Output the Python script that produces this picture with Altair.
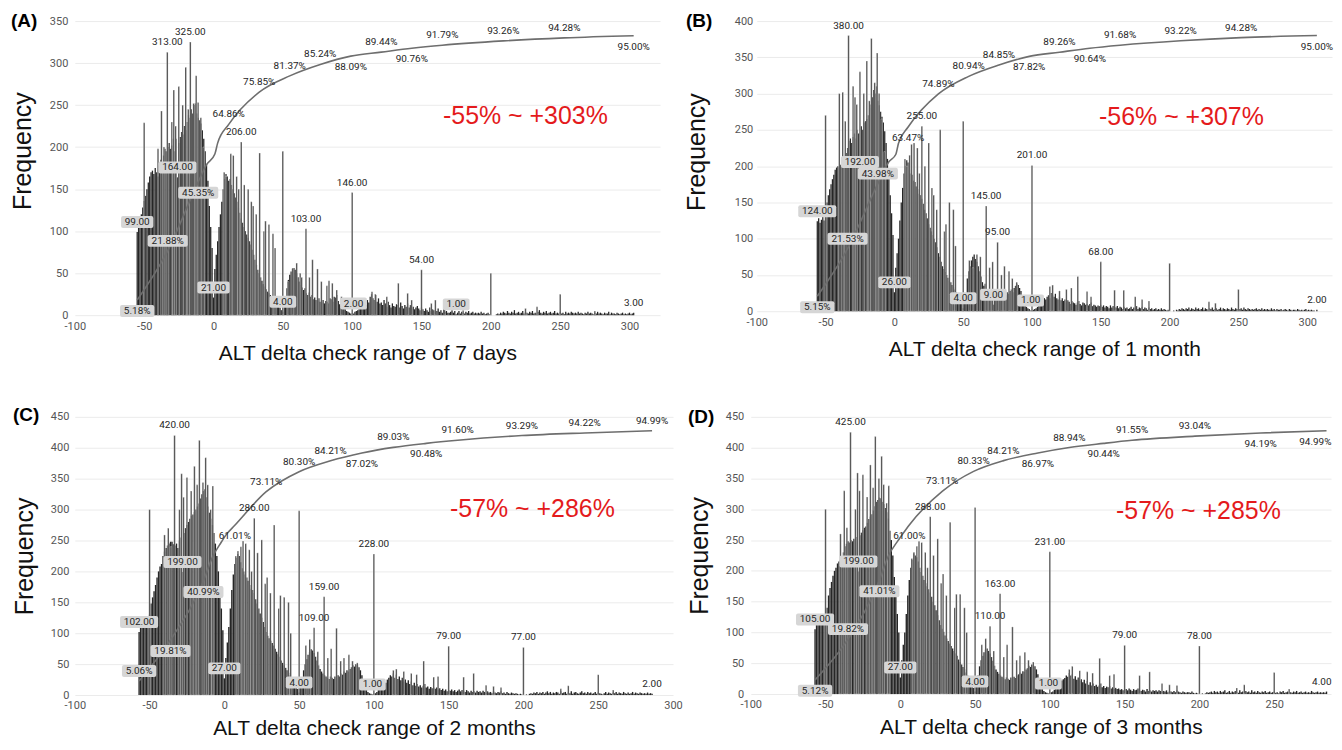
import altair as alt
import pandas as pd

LABEL_FONT = "Roboto"
TITLE_FONT = "Liberation Sans"
TICKS = [-100, -50, 0, 50, 100, 150, 200, 250, 300]

# ---------------- Panel A : 7 days ----------------
A_start = -55
A_base = [99, 105, 112, 120, 128, 136, 142, 150, 158, 165,
          170, 172, 168, 175, 170, 165, 178, 185, 182, 190,
          198, 195, 200, 205, 198, 202, 210, 195, 210, 164,
          205, 212, 218, 215, 225, 220, 230, 238, 235, 245,
          240, 250, 252, 240, 235, 232, 228, 220, 210, 195,
          180, 160, 130, 105, 80, 21, 55, 72, 88, 105,
          120, 135, 150, 162, 168, 165, 160, 162, 155, 150,
          145, 140, 135, 128, 122, 115, 110, 105, 100, 96,
          92, 88, 84, 78, 72, 66, 60, 54, 50, 45,
          41, 37, 34, 31, 28, 26, 24, 22, 20, 18,
          16, 14, 12, 9, 6, 4, 10, 20, 32, 42,
          48, 52, 55, 56, 54, 50, 45, 40, 36, 33,
          30, 32, 26, 24, 27, 22, 24, 19, 21, 18,
          17, 20, 16, 15, 18, 14, 17, 16, 14, 20,
          19, 16, 22, 21, 24, 17, 13, 11, 9, 8,
          7, 5, 4, 3, 2, 2]
A_tail = [2, 4, 5, 6, 8, 10, 12, 9, 14, 12,
          18, 15, 22, 25, 20, 18, 24, 16, 20, 14,
          15, 12, 18, 14, 10, 16, 12, 9, 14, 11,
          10, 13, 12, 9, 15, 11, 8, 12, 10, 14,
          9, 12, 8, 10, 7, 9, 11, 8, 6, 9,
          7, 5, 8, 6, 4, 9, 5, 7, 6, 4,
          5, 8, 4, 6, 3, 7, 4, 5, 3, 3,
          4, 6, 3, 5, 1, 3, 5, 2, 4, 3,
          2, 4, 3, 5, 2, 3, 4, 2, 3, 2,
          3, 2, 4, 2, 3, 1, 2, 3, 1, 0,
          0, 0, 0, 1, 2, 1, 3, 2, 4, 3,
          2, 5, 3, 2, 4, 3, 6, 2, 3, 4,
          2, 3, 5, 2, 4, 3, 2, 4, 3, 5,
          2, 3, 2, 4, 6, 3, 2, 4, 3, 5,
          2, 3, 4, 2, 3, 5, 2, 3, 2, 4,
          2, 3, 1, 4, 2, 3, 2, 4, 3, 2,
          3, 2, 4, 2, 3, 2, 1, 3, 2, 4,
          2, 3, 2, 1, 3, 2, 4, 2, 3, 2,
          1, 3, 2, 2, 4, 1, 3, 2, 2, 1,
          3, 2, 1, 2, 3, 1, 2, 1, 2, 3,
          1, 2, 3]
A_spike_x = [-50, -40, -37.5, -35.7, -33.3, -30, -28.6, -27.3, -25, -22.2, -20, -18.2, -16.7, -14.3, -12.5, -11.1, -9.1, -7.1,
             7.7, 9.1, 12.5, 14.3, 16.7, 18.2, 20, 22.2, 25, 27.3, 28.6, 30.8, 33.3, 36.4, 37.5, 40, 42.9, 44.4, 50,
             53.8, 57.1, 60, 62.5, 63.6, 66.7, 69.2, 71.4, 75, 77.8, 81.8, 83.3, 85.7, 88.9, 92.3,
             100, 114.3, 116.7, 125, 133.3, 140, 142.9, 150, 157.1, 160, 166.7, 180, 200, 225, 233.3, 250, 275]
A_spike_n = [229, 198, 243, 200, 313, 230, 268, 225, 272, 250, 295, 245, 325, 252, 285, 253, 235, 200,
             170, 165, 192, 190, 165, 150, 206, 155, 150, 135, 130, 120, 193, 100, 112, 108, 97, 80, 195,
             40, 56, 62, 50, 45, 103, 45, 66, 55, 40, 35, 41, 38, 30, 22,
             146, 28, 25, 22, 38, 26, 18, 54, 14, 18, 16, 6, 50, 8, 10, 25, 5]
A_cum_x = [-55, -33, -11, 11, 33, 55, 77, 99, 121, 143, 165, 209, 253, 303]
A_cum_v = [5.18, 21.88, 45.35, 64.86, 75.85, 81.37, 85.24, 88.09, 89.44, 90.76, 91.79, 93.26, 94.28, 95.00]
A_cum_below = [0, 2, 7, 9, 13]
A_kink_x = [-5, 1, 3]
A_kink_v = [51.2, 54.8, 58.5]
A_box_lab = [-55, -26, 0, 50, 101, 175]
A_plain_lab = [303]
A_spike_lab = [-33.3, -16.7, 20, 66.7, 100, 150]

# ---------------- Panel B : 1 month ----------------
B_start = -56
B_base = [124, 128, 122, 126, 130, 125, 135, 150, 160, 168,
          175, 182, 188, 195, 198, 200, 198, 202, 205, 200,
          210, 218, 225, 235, 238, 232, 240, 245, 238, 250,
          245, 192, 255, 250, 260, 262, 265, 270, 280, 285,
          295, 305, 300, 310, 290, 284, 275, 268, 260, 248,
          232, 210, 185, 160, 135, 105, 26, 60, 80, 100,
          125, 150, 170, 190, 200, 208, 205, 195, 190, 188,
          180, 178, 172, 168, 162, 160, 155, 148, 140, 135,
          128, 120, 115, 110, 105, 100, 95, 88, 80, 75,
          68, 62, 58, 54, 50, 46, 42, 40, 36, 33,
          30, 26, 22, 18, 14, 10, 4, 12, 25, 45,
          55, 62, 70, 75, 78, 72, 68, 62, 55, 48,
          40, 35, 38, 30, 28, 25, 22, 20, 9, 20,
          18, 16, 20, 18, 22, 20, 25, 22, 26, 24,
          28, 30, 26, 32, 35, 38, 36, 32, 28, 20,
          14, 10, 6, 4, 3, 1, 2]
B_tail = [2, 3, 4, 6, 8, 12, 15, 14, 18, 16,
          20, 22, 18, 25, 22, 20, 24, 18, 16, 20,
          15, 18, 14, 16, 12, 15, 13, 10, 14, 12,
          11, 9, 12, 14, 10, 8, 12, 11, 9, 10,
          8, 10, 12, 7, 9, 8, 6, 8, 7, 9,
          6, 8, 5, 7, 6, 4, 8, 5, 7, 6,
          5, 7, 4, 6, 5, 3, 6, 4, 5, 3,
          4, 6, 3, 5, 4, 7, 3, 5, 4, 6,
          3, 5, 4, 2, 5, 3, 4, 2, 3, 4,
          2, 3, 2, 4, 2, 3, 2, 1, 2, 0,
          0, 0, 1, 0, 2, 1, 3, 2, 4, 3,
          2, 4, 3, 5, 2, 4, 3, 2, 5, 3,
          4, 2, 3, 5, 2, 4, 3, 2, 4, 3,
          5, 2, 3, 4, 2, 3, 5, 2, 4, 3,
          2, 4, 3, 2, 5, 3, 2, 4, 3, 2,
          3, 4, 2, 5, 3, 2, 4, 3, 2, 3,
          2, 3, 4, 2, 3, 2, 4, 2, 3, 2,
          3, 2, 2, 4, 2, 3, 1, 3, 2, 2,
          3, 1, 2, 3, 2, 1, 3, 2, 1, 2,
          2, 1, 3, 2, 1, 2, 1, 2, 3, 1,
          2, 1, 2, 1, 1, 0, 2]
B_spike_x = [-50, -40, -37.5, -35.7, -33.3, -30, -28.6, -27.3, -25, -22.2, -20, -18.2, -16.7, -14.3, -12.5, -11.1, -9.1, -7.1,
             7.7, 9.1, 11.1, 12.5, 14.3, 16.7, 18.2, 20, 22.2, 25, 27.3, 28.6, 30.8, 33.3, 36.4, 37.5, 40, 42.9, 44.4, 50,
             54.5, 57.1, 60, 62.5, 66.7, 69.2, 71.4, 75, 77.8, 80, 83.3, 85.7, 88.9,
             100, 113, 115, 120, 125, 128.6, 133.3, 140, 142.9, 150, 160, 166.7, 175, 180, 185, 200, 228.6, 233.3, 250]
B_spike_n = [270, 300, 302, 262, 380, 310, 295, 285, 330, 300, 345, 290, 376, 315, 356, 300, 265, 220,
             210, 200, 215, 230, 232, 225, 190, 255, 200, 232, 170, 160, 140, 250, 110, 120, 150, 140, 90, 262,
             70, 60, 78, 75, 145, 60, 68, 95, 50, 62, 55, 45, 40,
             201, 34, 36, 28, 30, 32, 48, 27, 20, 68, 29, 29, 20, 16, 14, 66, 13, 11, 30]
B_cum_x = [-56, -34, -12, 10, 32, 54, 76, 98, 120, 142, 164, 208, 252, 307]
B_cum_v = [5.15, 21.53, 43.98, 63.47, 74.89, 80.94, 84.85, 87.82, 89.26, 90.64, 91.68, 93.22, 94.28, 95.00]
B_cum_below = [0, 3, 7, 9, 13]
B_kink_x = [-4, 1, 3]
B_kink_v = [51.5, 54.0, 57.9]
B_box_lab = [-56, -25, 0, 50, 72, 99]
B_plain_lab = [307]
B_spike_lab = [-33.3, 20, 66.7, 75, 100, 150]

# ---------------- Panel C : 2 months ----------------
C_start = -57
C_base = [102, 115, 118, 116, 120, 118, 125, 130, 148, 158,
          168, 178, 190, 200, 208, 212, 225, 232, 238, 242,
          245, 248, 248, 244, 242, 245, 238, 250, 255, 199,
          262, 270, 275, 280, 285, 290, 292, 296, 300, 305,
          310, 318, 325, 330, 333, 320, 305, 295, 285, 275,
          262, 245, 225, 200, 170, 140, 105, 27, 60, 85,
          110, 140, 170, 195, 212, 222, 228, 225, 215, 205,
          200, 195, 190, 185, 178, 172, 170, 165, 155, 148,
          140, 132, 125, 118, 110, 102, 96, 92, 88, 84,
          80, 75, 70, 66, 62, 56, 52, 48, 44, 40,
          36, 32, 28, 24, 21, 15, 10, 4, 14, 28,
          40, 50, 58, 65, 70, 74, 72, 68, 62, 56,
          48, 42, 38, 35, 32, 30, 28, 26, 30, 28,
          26, 30, 28, 32, 30, 35, 33, 38, 36, 40,
          38, 42, 45, 48, 46, 50, 48, 45, 40, 32,
          22, 14, 8, 5, 3, 2, 1, 2]
C_tail = [3, 5, 8, 10, 14, 18, 22, 20, 25, 28,
          32, 30, 35, 28, 33, 26, 30, 24, 28, 22,
          25, 20, 24, 18, 22, 16, 20, 15, 18, 14,
          16, 12, 15, 18, 12, 14, 10, 13, 11, 12,
          10, 12, 9, 11, 8, 10, 7, 9, 6, 8,
          7, 9, 6, 8, 5, 7, 9, 6, 8, 7,
          5, 8, 6, 4, 7, 5, 6, 4, 7, 5,
          6, 4, 7, 5, 3, 6, 4, 5, 3, 6,
          4, 3, 5, 4, 6, 3, 4, 2, 5, 3,
          2, 4, 3, 2, 3, 2, 1, 2, 1, 0,
          0, 1, 0, 2, 3, 2, 4, 3, 5, 2,
          4, 3, 5, 2, 4, 6, 3, 5, 2, 4,
          3, 5, 4, 2, 6, 3, 4, 5, 2, 4,
          3, 6, 2, 4, 5, 3, 2, 4, 6, 3,
          4, 2, 5, 3, 4, 2, 3, 5, 2, 4,
          3, 2, 1, 3, 5, 2, 4, 3, 2, 4,
          3, 5, 2, 4, 3, 2, 5, 3, 2, 4,
          2, 3, 5, 2, 4, 3, 2, 4, 3, 2,
          3, 2, 4, 2, 3, 2]
C_spike_x = [-50, -40, -37.5, -35.7, -33.3, -30, -28.6, -27.3, -25, -22.2, -20, -18.2, -16.7, -14.3, -12.5, -11.1, -9.1, -7.7,
             7.7, 9.1, 11.1, 12.5, 14.3, 16.7, 18.2, 20, 22.2, 25, 27.3, 28.6, 30.8, 33.3, 36.4, 37.5, 40, 42.9, 44.4, 50,
             54.5, 57.1, 60, 62.5, 66.7, 69.2, 71.4, 75, 77.8, 80, 83.3, 85.7, 88.9,
             100, 113, 115, 120, 125, 128.6, 133.3, 140, 142.9, 150, 160, 166.7, 175, 180, 185, 200, 225, 230, 250, 260]
C_spike_n = [300, 259, 270, 240, 420, 300, 358, 320, 352, 330, 370, 340, 412, 344, 384, 340, 300, 338,
             225, 233, 240, 249, 245, 235, 200, 286, 230, 251, 180, 190, 165, 275, 140, 161, 158, 150, 100, 298,
             80, 90, 109, 70, 159, 60, 75, 108, 55, 60, 65, 55, 52,
             228, 40, 42, 38, 35, 33, 55, 29, 30, 79, 29, 35, 16, 14, 12, 77, 10, 15, 33, 8]
C_cum_x = [-57, -36, -14, 7, 28, 50, 71, 92, 113, 135, 156, 199, 241, 286]
C_cum_v = [5.06, 19.81, 40.99, 61.01, 73.11, 80.30, 84.21, 87.02, 89.03, 90.48, 91.60, 93.29, 94.22, 94.99]
C_cum_below = [1, 2, 3, 7, 9]
C_kink_x = [-8, -2, 1]
C_kink_v = [49.5, 55.0, 57.5]
C_box_lab = [-57, -28, 0, 50, 99]
C_plain_lab = [286]
C_spike_lab = [-33.3, 20, 60, 66.7, 100, 150, 200]

# ---------------- Panel D : 3 months ----------------
D_start = -57
D_base = [105, 115, 117, 118, 120, 122, 122, 125, 140, 160,
          172, 182, 192, 200, 205, 212, 215, 218, 222, 230,
          240, 244, 248, 246, 250, 248, 252, 250, 255, 199,
          258, 262, 266, 270, 272, 278, 284, 288, 292, 298,
          305, 312, 315, 319, 318, 312, 308, 302, 295, 285,
          265, 250, 225, 190, 160, 130, 100, 27, 55, 80,
          100, 130, 160, 185, 205, 218, 228, 225, 222, 215,
          205, 198, 192, 185, 180, 175, 170, 165, 158, 150,
          144, 136, 128, 120, 112, 106, 101, 95, 90, 86,
          82, 78, 74, 70, 66, 62, 56, 52, 48, 44,
          40, 35, 30, 26, 22, 16, 10, 4, 15, 30,
          45, 55, 62, 68, 72, 74, 70, 66, 60, 54,
          46, 40, 36, 33, 30, 28, 26, 24, 27, 25,
          23, 27, 25, 28, 26, 30, 32, 35, 33, 37,
          36, 40, 42, 46, 44, 48, 47, 45, 40, 32,
          22, 14, 8, 5, 3, 2, 1, 2]
D_tail = [3, 4, 7, 10, 13, 16, 20, 22, 24, 26,
          30, 28, 34, 30, 32, 25, 29, 23, 27, 21,
          24, 19, 23, 17, 21, 15, 19, 14, 17, 13,
          15, 12, 14, 17, 11, 13, 10, 12, 11, 13,
          9, 11, 8, 10, 8, 9, 7, 8, 6, 7,
          8, 6, 9, 7, 5, 8, 6, 7, 9, 6,
          5, 7, 6, 4, 8, 5, 6, 4, 6, 5,
          6, 4, 6, 5, 3, 5, 4, 6, 3, 5,
          4, 3, 5, 3, 6, 4, 3, 2, 4, 3,
          2, 3, 3, 2, 4, 2, 1, 2, 1, 0,
          0, 1, 0, 1, 3, 2, 3, 4, 2, 5,
          3, 4, 2, 5, 3, 4, 6, 2, 3, 5,
          2, 4, 3, 5, 3, 2, 6, 3, 4, 2,
          5, 3, 4, 2, 6, 3, 4, 2, 5, 3,
          2, 4, 3, 5, 2, 3, 4, 2, 3, 4,
          2, 3, 1, 4, 3, 5, 2, 3, 4, 2,
          3, 2, 4, 3, 5, 2, 3, 4, 2, 3,
          4, 2, 3, 2, 5, 3, 2, 3, 4, 2,
          3, 2, 3, 2, 4]
D_spike_x = [-50, -40, -37.5, -35.7, -33.3, -30, -28.6, -27.3, -25, -22.2, -20, -18.2, -16.7, -14.3, -12.5, -11.1, -9.1, -7.7,
             7.7, 9.1, 11.1, 12.5, 14.3, 16.7, 18.2, 20, 22.2, 25, 27.3, 28.6, 30.8, 33.3, 36.4, 37.5, 40, 42.9, 44.4, 50,
             54.5, 57.1, 60, 62.5, 66.7, 69.2, 71.4, 75, 77.8, 80, 83.3, 85.7, 88.9,
             100, 113, 115, 120, 125, 128.6, 133.3, 140, 142.9, 150, 160, 166.7, 175, 180, 185, 200, 225, 230, 250, 260]
D_spike_n = [300, 260, 330, 270, 425, 300, 359, 330, 356, 320, 372, 335, 418, 350, 386, 340, 310, 338,
             220, 230, 240, 248, 246, 230, 205, 288, 225, 252, 180, 195, 160, 279, 140, 162, 162, 140, 100, 303,
             80, 90, 110, 70, 163, 60, 80, 109, 55, 62, 68, 55, 52,
             231, 40, 45, 38, 36, 34, 58, 30, 32, 79, 30, 36, 17, 15, 14, 78, 10, 15, 35, 8]
D_cum_x = [-57, -35, -14, 6, 28, 49, 69, 92, 113, 136, 155, 197, 241, 285]
D_cum_v = [5.12, 19.82, 41.01, 61.00, 73.11, 80.33, 84.21, 86.97, 88.94, 90.44, 91.55, 93.04, 94.19, 94.99]
D_cum_below = [0, 2, 3, 7, 9, 12, 13]
D_kink_x = [-8, -2, 1]
D_kink_v = [49.8, 55.0, 57.3]
D_box_lab = [-57, -28, 0, 50, 99]
D_plain_lab = [285]
D_spike_lab = [-33.3, 20, 60, 66.7, 100, 150, 200]

CHAR_W = {'.': 2.7, '%': 7.6}
UP, DOWN = -10, 11


def text_w(s):
    return sum(CHAR_W.get(c, 5.7) for c in s)


def box_path(s, dy, h=12.0, pad=7.0, r=2.0):
    w = text_w(s) + pad
    x0, x1 = -w / 2, w / 2
    y0, y1 = dy - h / 2, dy + h / 2
    return (f"M{x0 + r:.1f},{y0:.1f}H{x1 - r:.1f}Q{x1:.1f},{y0:.1f} {x1:.1f},{y0 + r:.1f}"
            f"V{y1 - r:.1f}Q{x1:.1f},{y1:.1f} {x1 - r:.1f},{y1:.1f}H{x0 + r:.1f}"
            f"Q{x0:.1f},{y1:.1f} {x0:.1f},{y1 - r:.1f}V{y0 + r:.1f}Q{x0:.1f},{y0:.1f} {x0 + r:.1f},{y0:.1f}Z")


def panel(start, base, tail, spike_x, spike_n, cum_x, cum_v, cum_below, kink_x, kink_v,
          box_lab, plain_lab, spike_lab, letter, rng, title,
          xmax, width, ymax, height, tpad, lpad, xtpad, letter_x, letter_y, rng_x, rng_y,
          last_right=False, ytitle_y=None):
    xs = list(range(start, start + len(base) + len(tail)))
    ns = base + tail
    bars = pd.DataFrame({'x': xs, 'n': ns})
    spikes = pd.DataFrame({'x': spike_x, 'n': spike_n})
    base_lookup = dict(zip(xs, ns))
    spike_lookup = dict(zip(spike_x, spike_n))
    unit_px = width / (xmax + 100.0)
    xlast = xs[-1]

    rows = []
    for x in box_lab:
        n = base_lookup[x]
        t = f"{n:.2f}"
        rows.append({'x': x, 'n': n, 't': t, 'box': 1, 'right': 0, 'path': box_path(t, UP)})
    for x in plain_lab:
        n = base_lookup[x]
        rows.append({'x': x, 'n': n, 't': f"{n:.2f}", 'box': 0,
                     'right': 1 if (last_right and x == xlast) else 0, 'path': ''})
    for x in spike_lab:
        n = spike_lookup[x]
        rows.append({'x': x, 'n': n, 't': f"{n:.2f}", 'box': 0, 'right': 0, 'path': ''})
    blab = pd.DataFrame(rows)

    cline = pd.DataFrame({'x': cum_x + kink_x, 'v': cum_v + kink_v})
    crows = []
    for i, (x, v) in enumerate(zip(cum_x, cum_v)):
        t = f"{v:.2f}%"
        dy = DOWN if i in cum_below else UP
        crows.append({'x': x, 'v': v, 't': t, 'below': 1 if dy == DOWN else 0,
                      'right': 1 if (last_right and i == len(cum_x) - 1) else 0,
                      'box': 1 if i < 3 else 0, 'path': box_path(t, dy) if i < 3 else ''})
    clab = pd.DataFrame(crows)

    xenc = alt.X('x:Q', scale=alt.Scale(domain=[-100, xmax], nice=False, zero=False, padding=0),
                 axis=alt.Axis(values=[t for t in TICKS if t <= xmax], title=title,
                               labelPadding=5, titlePadding=xtpad, titleFontSize=21,
                               grid=False, labelFlush=False, labelExpr="datum.value + ''"))
    yaxis_kw = dict(values=list(range(0, ymax + 1, 50)), title='Frequency',
                    titleFontSize=25, titlePadding=tpad, labelPadding=lpad, grid=True)
    if ytitle_y is not None:
        yaxis_kw['titleY'] = ytitle_y
    ycount = alt.Y('n:Q', scale=alt.Scale(domain=[0, ymax], nice=False, padding=0),
                   axis=alt.Axis(**yaxis_kw))
    ycount2 = alt.Y('n:Q', scale=alt.Scale(domain=[0, ymax], nice=False, padding=0), axis=None)
    ypct = alt.Y('v:Q', scale=alt.Scale(domain=[0, 100], nice=False, padding=0), axis=None)

    layers = [
        alt.Chart(bars).mark_bar(width=round(unit_px * 0.92, 2), color='#262626').encode(x=xenc, y=ycount),
        alt.Chart(spikes).mark_bar(width=1.5, color='#3a3a3a', stroke='#ffffff',
                                   strokeWidth=0.35).encode(x=xenc, y=ycount2),
        alt.Chart(cline).mark_line(color='#6e6e6e', strokeWidth=1.6,
                                   interpolate='monotone').encode(x=xenc, y=ypct),
        alt.Chart(blab).transform_filter('datum.box == 1').mark_point(
            filled=True, size=4, opacity=1, color='#d6d6d6', strokeWidth=0).encode(
            x=xenc, y=ycount2, shape=alt.Shape('path:N', scale=None)),
        alt.Chart(clab).transform_filter('datum.box == 1').mark_point(
            filled=True, size=4, opacity=1, color='#d6d6d6', strokeWidth=0).encode(
            x=xenc, y=ypct, shape=alt.Shape('path:N', scale=None)),
    ]
    for r, align, dx in [(0, 'center', 0), (1, 'right', 5)]:
        layers.append(alt.Chart(blab).transform_filter(f'datum.right == {r}').mark_text(
            font=LABEL_FONT, fontSize=10, color='#262626', dy=UP, dx=dx, align=align,
            baseline='middle').encode(x=xenc, y=ycount2, text='t:N'))
        for b, dy in [(0, UP), (1, DOWN)]:
            layers.append(alt.Chart(clab).transform_filter(
                f'datum.below == {b} && datum.right == {r}').mark_text(
                font=LABEL_FONT, fontSize=10, color='#262626', dy=dy, dx=dx, align=align,
                baseline='middle').encode(x=xenc, y=ypct, text='t:N'))
    layers.append(alt.Chart(pd.DataFrame({'t': [letter]})).mark_text(
        font=TITLE_FONT, fontSize=19, fontWeight='bold', color='#000000',
        align='left', baseline='middle').encode(x=alt.value(letter_x), y=alt.value(letter_y), text='t:N'))
    layers.append(alt.Chart(pd.DataFrame({'t': [rng]})).mark_text(
        font=TITLE_FONT, fontSize=25, color='#e41a1c', align='center', baseline='middle').encode(
        x=alt.value(rng_x), y=alt.value(rng_y), text='t:N'))

    return alt.layer(*layers).resolve_scale(y='independent').properties(width=width, height=height)


pA = panel(A_start, A_base, A_tail, A_spike_x, A_spike_n, A_cum_x, A_cum_v, A_cum_below,
           A_kink_x, A_kink_v, A_box_lab, A_plain_lab, A_spike_lab,
           '(A)', '-55% ~ +303%', 'ALT delta check range of 7 days',
           322, 587, 350, 295, 14, 7, 11, -64, 0, 452, 95, ytitle_y=130)
pB = panel(B_start, B_base, B_tail, B_spike_x, B_spike_n, B_cum_x, B_cum_v, B_cum_below,
           B_kink_x, B_kink_v, B_box_lab, B_plain_lab, B_spike_lab,
           '(B)', '-56% ~ +307%', 'ALT delta check range of 1 month',
           318, 577, 400, 291, 25, 4, 11, -71, 0, 426, 96, ytitle_y=131)
pC = panel(C_start, C_base, C_tail, C_spike_x, C_spike_n, C_cum_x, C_cum_v, C_cum_below,
           C_kink_x, C_kink_v, C_box_lab, C_plain_lab, C_spike_lab,
           '(C)', '-57% ~ +286%', 'ALT delta check range of 2 months',
           300, 600, 450, 279, 13, 6, 7, -62, -2, 459, 92)
pD = panel(D_start, D_base, D_tail, D_spike_x, D_spike_n, D_cum_x, D_cum_v, D_cum_below,
           D_kink_x, D_kink_v, D_box_lab, D_plain_lab, D_spike_lab,
           '(D)', '-57% ~ +285%', 'ALT delta check range of 3 months',
           288, 582, 450, 278, 13, 7, 7, -63, 0, 449, 94, last_right=True)

chart = alt.vconcat(
    alt.hconcat(pA, pB, spacing=22),
    alt.hconcat(pC, pD, spacing=3),
    spacing=41,
).properties(
    padding={'left': 1, 'top': 2, 'right': 0, 'bottom': 0}
).configure_view(
    stroke='transparent'
).configure_axis(
    labelFont=LABEL_FONT, labelFontSize=11, labelColor='#555555',
    titleFont=TITLE_FONT, titleColor='#111111', titleFontWeight='normal',
    domain=False, ticks=False, gridColor='#ebebeb'
)

chart.save("out.html", embed_options={"renderer": "svg", "actions": False})
